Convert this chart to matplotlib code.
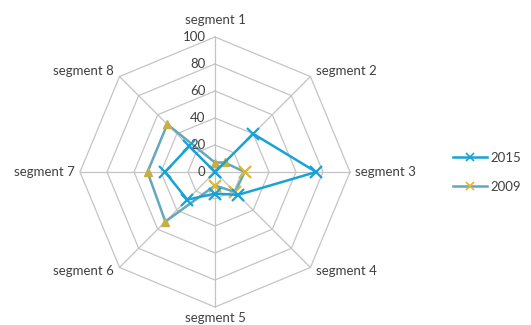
import matplotlib.pyplot as plt
import numpy as np

segments = ['segment 1', 'segment 2', 'segment 3', 'segment 4',
            'segment 5', 'segment 6', 'segment 7', 'segment 8']
v2015 = [0, 40, 75, 24, 16, 29, 37, 27]
v2009 = [7, 10, 22, 21, 10, 52, 50, 50]
rings = [20, 40, 60, 80, 100]
ring_labels = ['0', '20', '40', '60', '80', '100']

plt.rcParams['font.family'] = ['Lato', 'DejaVu Sans']

blue = '#1aa2d6'
teal = '#63a8bb'
gold = '#e0b62c'
olive = '#c4b046'
grid = '#c4c4c4'
txt = '#404040'
fs = 9.5

n = len(segments)
ang = np.arange(n) * 2 * np.pi / n


def xy(vals):
    vals = np.asarray(vals, dtype=float)
    return vals * np.sin(ang), vals * np.cos(ang)


fig = plt.figure(figsize=(5.31, 3.25), dpi=100)
ax = fig.add_axes([0, 0, 1, 1])
s = 1.35  # px per unit
ymin = -153 / s
ax.set_xlim(-215 / s, (531 - 215) / s)
ax.set_ylim(ymin, 172 / s)
ax.axis('off')

# octagon grid
for r in rings:
    gx, gy = xy([r] * n)
    ax.plot(np.append(gx, gx[0]), np.append(gy, gy[0]), color=grid, lw=0.9, zorder=1)
ex, ey = xy([100] * n)
for i in range(n):
    ax.plot([0, ex[i]], [0, ey[i]], color=grid, lw=0.9, zorder=1)

# ring value labels
for i, lab in enumerate(ring_labels):
    ax.text(-7, i * 20, lab, ha='right', va='center', fontsize=fs, color=txt)

# segment labels
for i, name in enumerate(segments):
    sx, sy = np.sin(ang[i]), np.cos(ang[i])
    if abs(sx) < 0.1:
        if sy > 0:
            ax.text(0, 108, name, ha='center', va='bottom', fontsize=fs, color=txt)
        else:
            ax.text(0, ymin + 1, name, ha='center', va='bottom', fontsize=fs, color=txt)
    elif abs(sy) < 0.1:
        ax.text(100 * sx + 4 * sx, 0, name, ha='left' if sx > 0 else 'right',
                va='center', fontsize=fs, color=txt)
    else:
        dy = 4 if sy > 0 else -2.5
        ax.text(ex[i] + 4 * np.sign(sx), ey[i] + dy, name,
                ha='left' if sx > 0 else 'right',
                va='center', fontsize=fs, color=txt)

# 2009 series
x9, y9 = xy(v2009)
ax.plot(np.append(x9, x9[0]), np.append(y9, y9[0]), color=teal, lw=1.8, zorder=2)
xi = [2, 3, 4]
ti = [0, 1, 5, 6, 7]
ax.plot(x9[xi], y9[xi], 'x', color=gold, ms=9, mew=1.6, zorder=3)
ax.plot(x9[ti], y9[ti], '^', color=olive, ms=6, zorder=3)

# 2015 series
x5, y5 = xy(v2015)
ax.plot(np.append(x5, x5[0]), np.append(y5, y5[0]), color=blue, lw=1.8,
        marker='x', ms=9, mew=1.6, zorder=4)

# legend
h1, = ax.plot([], [], color=blue, lw=1.8, marker='x', ms=6, mew=1.2)
h2, = ax.plot([], [], color=teal, lw=1.8, marker='x', ms=6, mew=1.2, mec=gold)
ax.legend([h1, h2], ['2015', '2009'], loc='center left', bbox_to_anchor=(0.83, 0.47),
          frameon=False, fontsize=fs, handlelength=2.6, labelspacing=1.3,
          handletextpad=0.3, labelcolor=txt)

fig.savefig('out.png', dpi=100)
